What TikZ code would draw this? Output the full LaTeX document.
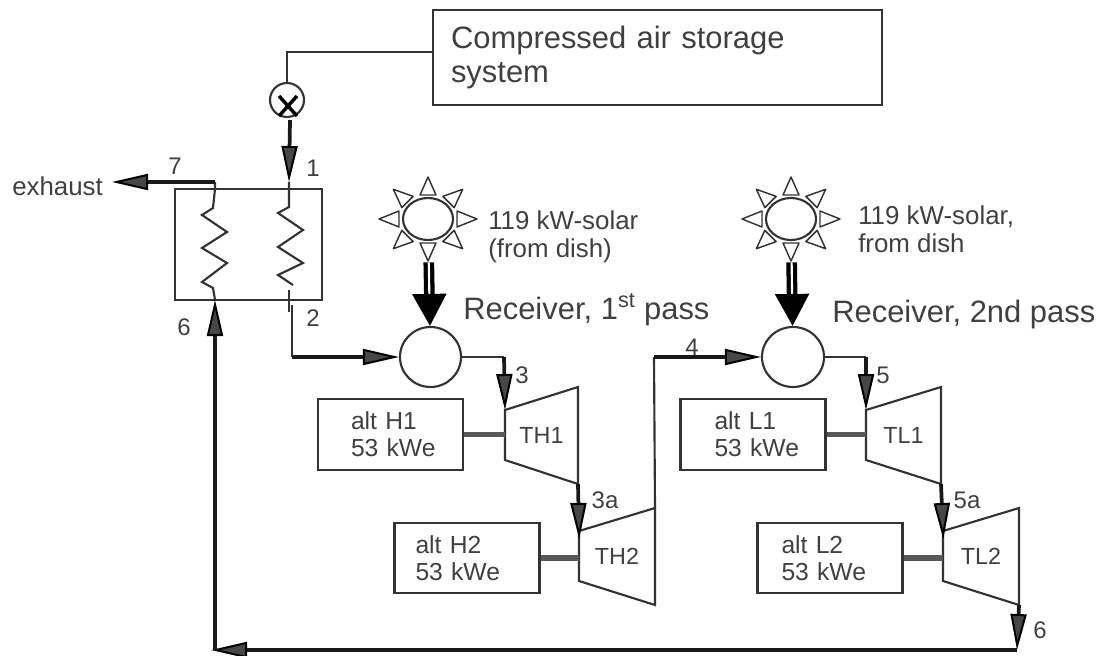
\documentclass[tikz,border=0pt]{standalone}
\usepackage{fontspec}
\setmainfont{Liberation Sans}
\usetikzlibrary{arrows.meta, calc, shapes.geometric}
\colorlet{linecol}{black!80}
\colorlet{textcol}{black!75}
\tikzset{
    thinline/.style={draw=linecol, line width=1.6pt},
    boldline/.style={draw=black!90, line width=2.8pt},
    flow/.style={boldline, -{Triangle[length=27pt, width=12pt, line width=1.5pt, fill=black!72, color=black]}},
    solar/.style={draw=black, double=white, double distance=1.6pt, line width=3.2pt, -{Triangle[length=24pt, width=25pt, fill=black, color=black]}},
    shaft/.style={draw=black!65, line width=4pt},
    altbox/.code={%
        \pgfmathsetlengthmacro\altw{108.75pt-1.5*#1*1pt}%
        \pgfkeysalso{thinline, minimum height=53pt, inner xsep=#1*0.75pt, inner ysep=0pt,
            text width=\altw, align=left, text=textcol,
            font=\fontsize{18.5}{20}\selectfont}},
    numlabel/.style={text=textcol, inner sep=0pt, font=\fontsize{18}{20}\selectfont},
    note/.style={text=textcol, inner sep=0pt, anchor=west, align=left, font=\fontsize{19.4}{21}\selectfont},
    bignote/.style={text=textcol, inner sep=0pt, anchor=west, font=\fontsize{23.2}{25}\selectfont},
    tlabel/.style={text=textcol, inner sep=0pt, font=\fontsize{17.5}{18}\selectfont},
}
% name, label, left x, top y, width
\newcommand{\turbine}[5]{
    \coordinate (#1tl) at (#3,#4+23);
    \coordinate (#1tr) at (#3+#5,#4);
    \coordinate (#1bl) at (#3,#4+73);
    \coordinate (#1br) at (#3+#5,#4+97);
    \draw[thinline] (#1tl) -- (#1tr) -- (#1br) -- (#1bl) -- cycle;
    \node[tlabel] (#1) at (#3+#5/2,#4+48) {#2};
}
% name, position
\newcommand{\sun}[2]{
    \node[ellipse, thinline, minimum width=37.5pt, minimum height=31.5pt, inner sep=0pt] (#1) at (#2) {};
    \foreach \a in {0,45,...,315} {
        \draw[thinline, line width=1.1pt, line join=round]
            ($(#1.center)+(\a:49 and 42)$) --
            ($(#1.center)+(\a:29 and 24)+(\a+90:8)$) --
            ($(#1.center)+(\a:29 and 24)+(\a-90:8)$) -- cycle;
    }
}
\begin{document}
\begin{tikzpicture}[x=0.75pt, y=-0.75pt]
    \useasboundingbox (0,0) rectangle (1103,656);

    \node[thinline, minimum height=71pt, inner xsep=13.5pt, inner ysep=0pt, text width=309.75pt,
        align=left, text=textcol, font=\fontsize{23.2}{25.5}\selectfont] (storage) at (657.5,57.5)
        {Compressed air storage\\system};

    % heat exchanger
    \node[thinline, minimum width=110.25pt, minimum height=83.25pt, inner sep=0pt] (hx) at (248.5,244.5) {};
    \coordinate (hxin) at (289,182);
    \coordinate (hxout) at (292,357);
    \coordinate (hot) at (215,182);
    \coordinate (cold) at (215,300);
    \draw[thinline] (hot) -- (215,189) -- (213,208) -- (202,215) -- (227,232) -- (202,248)
        -- (227,263) -- (202,282) -- (213,288) -- (cold);
    \draw[thinline] (hxin) -- (289,207) -- (278,213) -- (303,230) -- (278,247) -- (303,263)
        -- (278,275) -- (293,285);
    \draw[thinline] (289,290) -- (289,312);

    \node[circle, thinline, minimum size=25.5pt, inner sep=0pt] (valve) at (287,100) {};
    \draw[draw=black, line width=2.6pt] (279,96) -- (297,116) (297,96) -- (279,116);
    \coordinate (bend) at (287,52);
    \draw[thinline] (storage.west |- bend) -- (bend) -- (valve);
    \coordinate (valveout) at (290,120);
    \draw[flow] (valveout) -- (hxin);

    \node[numlabel] (lone) at (313,168) {1};
    \node[numlabel] (ltwo) at (313,318) {2};
    \node[numlabel] (lsix) at (184,327) {6};
    \node[numlabel] (lseven) at (175,166) {7};

    \node[note] (exhaust) at (12,186) {exhaust};
    \coordinate (exit) at (112,182);
    \draw[flow] (hot) -- (exit);

    % receivers
    \node[ellipse, thinline, minimum width=45.75pt, minimum height=45pt, inner sep=0pt] (recone) at (430.5,357) {};
    \node[ellipse, thinline, minimum width=46.5pt, minimum height=45pt, inner sep=0pt] (rectwo) at (793,357) {};
    \sun{sunone}{428,219}
    \sun{suntwo}{791,219}
    \draw[solar, shorten <=16pt] (sunone) -- (recone);
    \draw[solar, shorten <=16pt] (suntwo) -- (rectwo);
    \node[note] (solarone) at (488,237) {119 kW-solar\\(from dish)};
    \node[note] (solartwo) at (858,229) {119 kW-solar,\\from dish};
    \node[bignote] (passone) at (463,310) {Receiver, 1\textsuperscript{st} pass};
    \node[bignote] (passtwo) at (832,315) {Receiver, 2nd pass};

    % turbines and alternators
    \turbine{thone}{TH1}{505}{387}{73}
    \turbine{thtwo}{TH2}{579}{508}{76}
    \turbine{tlone}{TL1}{866}{387}{75}
    \turbine{tltwo}{TL2}{943}{508}{76}
    \node[altbox=33] (altha) at (390.5,434.5) {alt H1\\53~kWe};
    \node[altbox=21] (althb) at (467,558) {alt H2\\53~kWe};
    \node[altbox=34] (altla) at (753,434.5) {alt L1\\53~kWe};
    \node[altbox=24] (altlb) at (830,558) {alt L2\\53~kWe};
    \draw[shaft] (altha.east) -- (altha.east -| thonetl);
    \draw[shaft] (althb.east) -- (althb.east -| thtwotl);
    \draw[shaft] (altla.east) -- (altla.east -| tlonetl);
    \draw[shaft] (altlb.east) -- (altlb.east -| tltwotl);

    % flow path
    \draw[flow] (hxout) -- (recone);
    \draw[thinline] (hxout) -- (292,305);
    \coordinate (threeturn) at (504,357);
    \draw[thinline] (recone) -- (threeturn);
    \draw[flow] (threeturn) -- (thonetl);
    \draw[flow, shorten >=-6pt] (thonebr) -- (thtwotl);
    \coordinate (fourturn) at (654,357);
    \draw[thinline] (thtwotr) -- (fourturn);
    \draw[flow] (fourturn) -- (rectwo);
    \coordinate (fiveturn) at (866,357);
    \draw[thinline] (rectwo) -- (fiveturn);
    \draw[flow] (fiveturn) -- (tlonetl);
    \draw[flow, shorten >=-6pt] (tlonebr) -- (tltwotl);
    \coordinate (sixturn) at (1017,650);
    \coordinate (corner) at (215,650);
    \draw[flow] (tltwobr) -- (sixturn);
    \draw[flow, shorten >=-3pt] (sixturn) -- (corner);
    \draw[flow] (corner) -- (cold);

    \node[numlabel] (lthree) at (522,375) {3};
    \node[numlabel] (lthreea) at (605,500) {3a};
    \node[numlabel] (lfour) at (692,347) {4};
    \node[numlabel] (lfive) at (883,375) {5};
    \node[numlabel] (lfivea) at (967,500) {5a};
    \node[numlabel] (lsixb) at (1040,630) {6};
\end{tikzpicture}
\end{document}
